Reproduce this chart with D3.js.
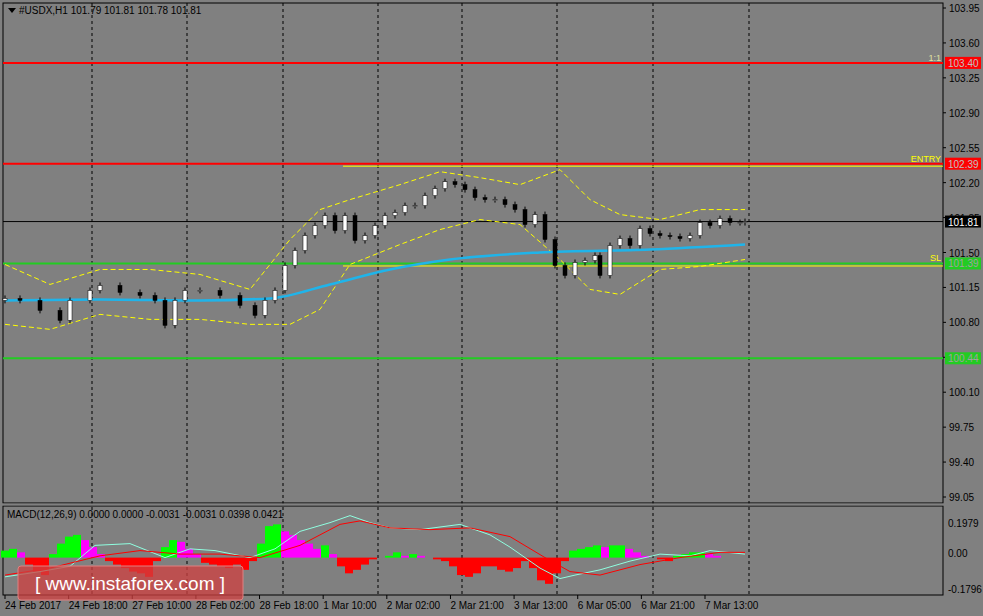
<!DOCTYPE html>
<html lang="en">
<head>
<meta charset="utf8">
<script src="https://d3js.org/d3.v7.min.js"></script>
<style>body{margin:0;background:#808080}text{font-family:"Liberation Sans",sans-serif;font-size:10px}</style>
</head>
<body>
<div class="chart"></div>
<script>
// closes, read every ~10px along the chart
var closeX = [5,20,40,60,70,90,100,120,140,155,165,175,185,200,220,240,255,265,275,285,295,305,315,325,335,345,355,365,375,385,395,405,415,425,435,445,455,465,475,485,495,505,515,525,535,545,555,565,575,585,595,600,610,620,630,640,650,660,670,680,690,700,710,720,730,740,745];
var closes = [101.04,101.02,100.92,100.82,101.02,101.12,101.17,101.10,101.07,101.02,100.77,101.02,101.12,101.12,101.07,100.97,100.87,101.02,101.12,101.37,101.52,101.67,101.77,101.87,101.72,101.87,101.62,101.67,101.77,101.87,101.90,101.97,101.97,102.07,102.14,102.21,102.18,102.13,102.05,102.03,102.03,101.98,101.93,101.78,101.88,101.63,101.37,101.27,101.40,101.42,101.47,101.27,101.57,101.64,101.57,101.74,101.69,101.67,101.66,101.64,101.67,101.80,101.77,101.84,101.80,101.80,101.81];
var maX = [5,100,200,270,330,390,450,540,650,745];
var maY = [101.02,101.03,101.02,101.04,101.18,101.33,101.43,101.50,101.53,101.58];
var bbX = [5,50,100,150,200,250,290,320,350,400,440,480,520,560,590,620,660,700,745];
var bbUp = [101.38,101.18,101.33,101.33,101.28,101.13,101.63,101.93,102.03,102.18,102.31,102.25,102.18,102.33,102.03,101.88,101.83,101.93,101.93];
var bbLo = [100.78,100.73,100.88,100.83,100.83,100.78,100.78,100.93,101.38,101.58,101.73,101.83,101.78,101.43,101.13,101.08,101.33,101.36,101.43];
var histX = d3.range(5, 746, 8);
var hist = [0.04,0.05,0.03,-0.04,-0.08,-0.1,0.02,0.08,0.12,0.13,0.1,0.06,0.02,-0.02,-0.04,-0.06,-0.08,-0.09,-0.11,-0.02,0.06,0.1,0.09,0.05,0.02,-0.03,-0.04,-0.05,-0.06,-0.04,-0.07,-0.02,0.08,0.18,0.19,0.15,0.13,0.1,0.08,0.05,0.07,0.02,-0.05,-0.09,-0.07,-0.04,-0.01,0.0,0.01,0.03,0.01,0.02,0.01,0.0,-0.01,-0.02,-0.05,-0.1,-0.11,-0.09,-0.05,-0.05,-0.07,-0.08,-0.06,-0.02,-0.06,-0.13,-0.15,-0.09,-0.02,0.04,0.05,0.06,0.07,0.06,0.07,0.07,0.05,0.03,0.01,0.0,-0.01,-0.02,0.01,0.02,0.03,0.03,0.02,0.01,0.0,0.0,0.0];
var macdX = [5,40,70,95,130,165,190,215,250,275,300,330,350,370,390,420,460,490,510,540,560,575,600,630,660,690,710,745];
var macd = [-0.11,-0.08,-0.05,0.07,0.08,0.0,0.05,0.04,0.0,0.05,0.15,0.2,0.24,0.2,0.17,0.16,0.19,0.13,0.06,-0.06,-0.12,-0.1,-0.07,-0.02,0.02,0.01,0.04,0.02];
var sigX = [5,50,100,140,180,220,260,300,340,360,390,430,470,510,545,570,600,640,680,720,745];
var sig = [-0.1,-0.06,0.01,0.04,0.02,0.02,0.0,0.07,0.19,0.21,0.17,0.16,0.17,0.12,0.0,-0.08,-0.1,-0.04,0.0,0.03,0.03];
var priceTicks = [103.95,103.60,103.25,102.90,102.55,102.20,101.85,101.50,101.15,100.80,100.45,100.10,99.75,99.40,99.05];
var timeLabels = ["24 Feb 2017","24 Feb 18:00","27 Feb 10:00","28 Feb 02:00","28 Feb 18:00","1 Mar 10:00","2 Mar 02:00","2 Mar 21:00","3 Mar 13:00","6 Mar 05:00","6 Mar 21:00","7 Mar 13:00"];
var gridX = [92,187,283,378,462,557,653,749];
var levels = [
  {v:103.40, c:"#ff0000", box:"#ff0000", tc:"#c0c0c0", tag:"1:1"},
  {v:102.39, c:"#ff0000", box:"#ff0000", tc:"#c0c0c0", tag:"ENTRY"},
  {v:101.81, c:"#000000", box:"#000000", tc:"#ffffff", tag:""},
  {v:101.39, c:"#22cc22", box:"#22cc22", tc:"#a0a0a0", tag:"SL"},
  {v:100.44, c:"#22cc22", box:"#22cc22", tc:"#a0a0a0", tag:""}
];

var W = 983, H = 616, L = 3, R = 943;
var svg = d3.select(".chart").append("svg").attr("width", W).attr("height", H).style("background", "#808080");
var y = d3.scaleLinear().domain([99.05, 103.95]).range([497, 8]);
var ym = d3.scaleLinear().domain([-0.1796, 0.1979]).range([589, 523]);
var xt = d3.scaleLinear().domain([0, 11]).range([5, 705]);

// frames
svg.append("rect").attr("x", L).attr("y", 3).attr("width", R - L).attr("height", 500).attr("fill", "none").attr("stroke", "#000");
svg.append("rect").attr("x", L).attr("y", 506).attr("width", R - L).attr("height", 89).attr("fill", "none").attr("stroke", "#000");
// grid
svg.selectAll("line.g").data(gridX).enter().append("line")
  .attr("x1", d => d).attr("x2", d => d).attr("y1", 3).attr("y2", 595)
  .attr("stroke", "#000").attr("stroke-dasharray", "3 3");
svg.append("rect").attr("x", L - 1).attr("y", 503.5).attr("width", R - L + 2).attr("height", 2).attr("fill", "#808080");
// price ticks
svg.selectAll("text.p").data(priceTicks).enter().append("text")
  .attr("x", 949).attr("y", d => y(d) + 4).text(d => d.toFixed(2));
svg.selectAll("line.pt").data(priceTicks).enter().append("line")
  .attr("x1", R).attr("x2", R + 3).attr("y1", d => y(d)).attr("y2", d => y(d)).attr("stroke", "#000");
// time labels
svg.selectAll("text.t").data(timeLabels).enter().append("text")
  .attr("x", (d, i) => xt(i)).attr("y", 609).text(d => d);
svg.selectAll("line.tt").data(timeLabels).enter().append("line")
  .attr("x1", (d, i) => xt(i)).attr("x2", (d, i) => xt(i)).attr("y1", 595).attr("y2", 599).attr("stroke", "#000");

// level lines
levels.forEach(function(l) {
  svg.append("line").attr("x1", L).attr("x2", R).attr("y1", y(l.v)).attr("y2", y(l.v)).attr("stroke", l.c).attr("stroke-width", l.c == "#000000" ? 1 : 2);
  svg.append("rect").attr("x", R + 2).attr("y", y(l.v) - 6).attr("width", 36).attr("height", 12).attr("fill", l.box);
  svg.append("text").attr("x", 948).attr("y", y(l.v) + 4).attr("fill", l.tc).text(l.v.toFixed(2));
  if (l.tag) svg.append("text").attr("x", 941).attr("y", y(l.v) - 2).attr("text-anchor", "end")
    .attr("fill", l.tag == "1:1" ? "#e0e0a0" : "#ffff00").style("font-size", "9px").text(l.tag);
});
[102.39, 101.39].forEach(function(v) {
  svg.append("line").attr("x1", 343).attr("x2", R).attr("y1", y(v) + 2.5).attr("y2", y(v) + 2.5).attr("stroke", "#ffff00").attr("stroke-width", 1);
});

// bollinger bands
var line = d3.line().x(d => d[0]).y(d => y(d[1]));
[bbUp, bbLo].forEach(function(arr) {
  svg.append("path").attr("d", line(d3.zip(bbX, arr))).attr("fill", "none")
    .attr("stroke", "#ffff00").attr("stroke-dasharray", "5 3");
});
// moving average
svg.append("path").attr("d", d3.line().curve(d3.curveMonotoneX).x(d => d[0]).y(d => y(d[1]))(d3.zip(maX, maY)))
  .attr("fill", "none").attr("stroke", "#1fb4ea").attr("stroke-width", 2.5);

// candles
var c = svg.append("g");
closes.forEach(function(cl, i) {
  var op = i ? closes[i - 1] : cl - 0.02;
  var hi = Math.max(op, cl) + 0.03, lo = Math.min(op, cl) - 0.03;
  var x = closeX[i];
  c.append("line").attr("x1", x).attr("x2", x).attr("y1", y(hi)).attr("y2", y(lo)).attr("stroke", "#000");
  c.append("rect").attr("x", x - 2).attr("y", y(Math.max(op, cl))).attr("width", 4)
    .attr("height", Math.max(1, Math.abs(y(op) - y(cl)))).attr("fill", cl >= op ? "#fff" : "#000").attr("stroke", "#000").attr("stroke-width", 0.5);
});

// MACD histogram
var z = ym(0);
svg.selectAll("rect.h").data(hist).enter().append("rect")
  .attr("x", (d, i) => histX[i] - 4).attr("width", 8)
  .attr("y", d => Math.min(z, ym(d))).attr("height", d => Math.abs(ym(d) - z))
  .attr("fill", (d, i) => d < 0 ? "#ff0000" : (i && d < hist[i - 1] ? "#ff00ff" : "#00ff00"));
var ml = d3.line().x(d => d[0]).y(d => ym(d[1]));
svg.append("path").attr("d", ml(d3.zip(macdX, macd))).attr("fill", "none").attr("stroke", "#8fffe0");
svg.append("path").attr("d", ml(d3.zip(sigX, sig))).attr("fill", "none").attr("stroke", "#ff0000");
[0.1979, 0, -0.1796].forEach(function(v) {
  svg.append("text").attr("x", 948).attr("y", ym(v) + (v == 0 ? -1 : 4)).text(v == 0 ? "0.00" : v.toFixed(4));
});

// labels
svg.append("path").attr("d", "M8,8 L16,8 L12,13 Z").attr("fill", "#000");
svg.append("text").attr("x", 19).attr("y", 14).text("#USDX,H1  101.79 101.81 101.78 101.81");
svg.append("text").attr("x", 7).attr("y", 518).text("MACD(12,26,9) 0.0000 0.0000 -0.0031 -0.0031 0.0398 0.0421");

// watermark
var wm = svg.append("g");
wm.append("rect").attr("x", 18).attr("y", 566).attr("width", 225).attr("height", 34).attr("rx", 3)
  .attr("fill", "#d04040").attr("fill-opacity", 0.75).attr("stroke", "#e08080");
wm.append("text").attr("x", 130).attr("y", 590).attr("text-anchor", "middle").attr("fill", "#fff")
  .style("font-size", "19px").style("font-family", "Liberation Sans Narrow, Liberation Sans, sans-serif")
  .text("[  www.instaforex.com  ]");
</script>
</body>
</html>
